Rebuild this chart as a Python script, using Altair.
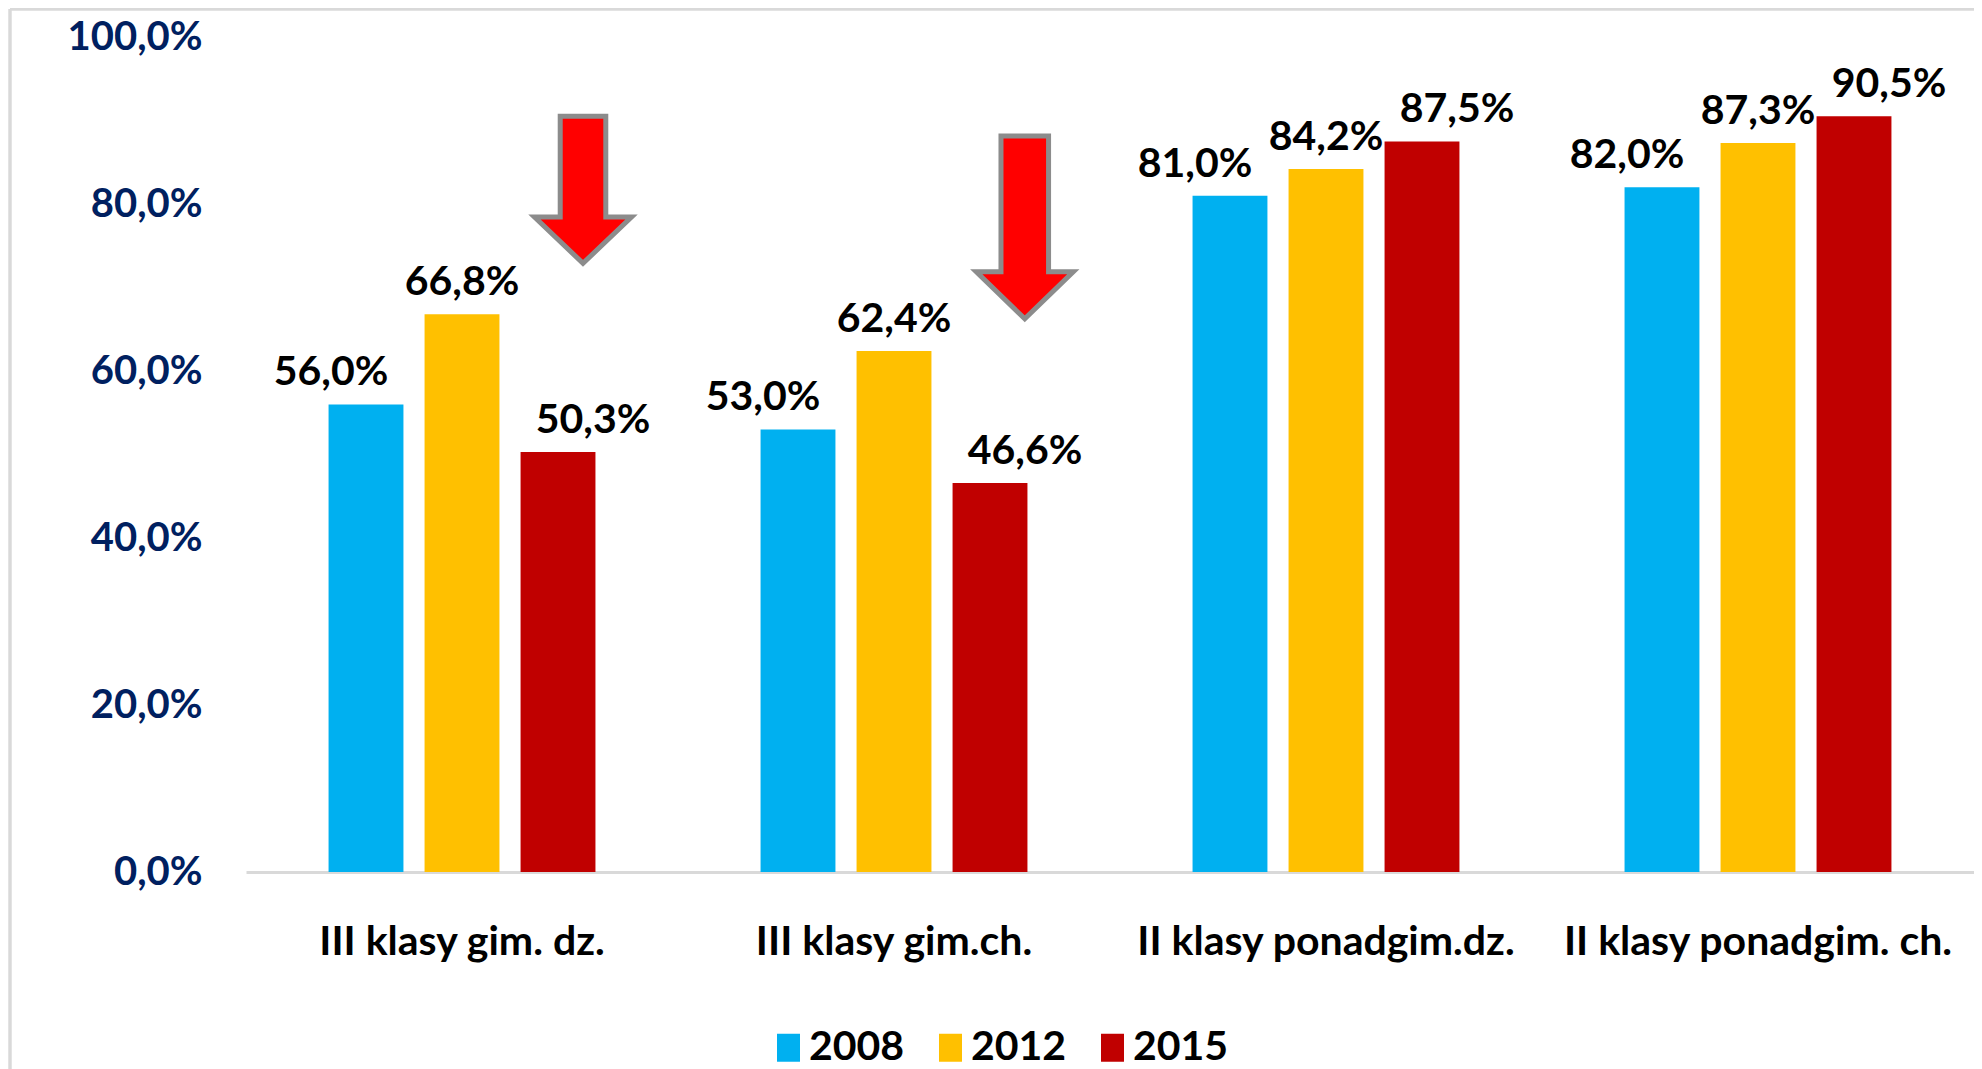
import altair as alt
import pandas as pd

categories = ["III klasy gim. dz.", "III klasy gim.ch.", "II klasy ponadgim.dz.", "II klasy ponadgim. ch."]
years = ["2008", "2012", "2015"]
v2008 = [56.0, 53.0, 81.0, 82.0]
v2012 = [66.8, 62.4, 84.2, 87.3]
v2015 = [50.3, 46.6, 87.5, 90.5]
colors = ["#00B0F0", "#FFC000", "#C00000"]

# arrows: category, value where arrow center sits
arrow_cats = ["III klasy gim. dz.", "III klasy gim.ch."]
arrow_vals = [81.7, 77.2]

rows = []
for yr, vals in zip(years, [v2008, v2012, v2015]):
    for c, v in zip(categories, vals):
        rows.append({"cat": c, "year": yr, "value": v,
                     "label": f"{v:.1f}".replace(".", ",") + "%"})
df = pd.DataFrame(rows)
arr_df = pd.DataFrame({"cat": arrow_cats, "year": ["2015", "2015"], "value": arrow_vals})

FONT = "Lato"
FS = 41
W, H = 1728, 835

x_enc = alt.X("cat:N", sort=categories, title=None,
              scale=alt.Scale(paddingInner=0.3333, paddingOuter=0.16667),
              axis=alt.Axis(labelFont=FONT, labelFontSize=FS, labelFontWeight="bold",
                            labelColor="#000000", labelPadding=70, labelBaseline="middle",
                            ticks=False, domainColor="#D9D9D9", domainWidth=3,
                            labelAngle=0, labelLimit=400))
xoff_enc = alt.XOffset("year:N", sort=years,
                       scale=alt.Scale(paddingInner=0.22, paddingOuter=0.11))
y_enc = alt.Y("value:Q", title=None,
              scale=alt.Scale(domain=[0, 100], nice=False, zero=True),
              axis=alt.Axis(values=[0, 20, 40, 60, 80, 100], grid=False, ticks=False,
                            domain=False, labelFont=FONT, labelFontSize=40,
                            labelFontWeight="bold", labelColor="#002060", labelPadding=44,
                            labelExpr="replace(format(datum.value, '.1f'), '.', ',') + '%'"))

bars = alt.Chart(df).mark_bar().encode(
    x=x_enc, xOffset=xoff_enc, y=y_enc,
    color=alt.Color("year:N", sort=years,
                    scale=alt.Scale(domain=years, range=colors),
                    legend=alt.Legend(title=None, orient="none", direction="horizontal",
                                      legendX=522, legendY=990, padding=0,
                                      labelFont=FONT, labelFontSize=FS, labelFontWeight="bold",
                                      labelColor="#000000", labelOffset=0, columnPadding=25,
                                      symbolType="M-0.82,-1H0.82V1H-0.82Z", symbolSize=784,
                                      symbolStrokeWidth=0, symbolOpacity=1)),
)

def labels(yr, dx):
    return alt.Chart(df).transform_filter(alt.datum.year == yr).mark_text(
        font=FONT, fontSize=FS, fontWeight="bold", color="#000000",
        baseline="bottom", dy=-10, dx=dx
    ).encode(x=alt.X("cat:N", sort=categories), xOffset=alt.XOffset("year:N", sort=years),
             y="value:Q", text="label:N")

arrow1 = "M0.03,-1L0.65,-1L0.65,0.37L1.0,0.37L0.34,1L-0.32,0.37L0.03,0.37Z"
arrow2 = "M0.12,-1L0.64,-1L0.64,0.486L0.91,0.486L0.38,1L-0.15,0.486L0.12,0.486Z"

def arrow(cat, path, size):
    return alt.Chart(arr_df).transform_filter(alt.datum.cat == cat).mark_point(
        shape=path, size=size, filled=True, fill="#FF0000", stroke="#8C8C8C",
        strokeWidth=5, opacity=1
    ).encode(x=alt.X("cat:N", sort=categories), xOffset=alt.XOffset("year:N", sort=years),
             y="value:Q")

border_top = alt.Chart(arr_df).mark_rule(color="#D9D9D9", strokeWidth=3).encode(
    x=alt.value(-236), x2=alt.value(W + 10), y=alt.value(-28))
border_left = alt.Chart(arr_df).mark_rule(color="#D9D9D9", strokeWidth=3).encode(
    x=alt.value(-236), y=alt.value(-28), y2=alt.value(H + 210))

chart = alt.layer(
    border_top, border_left, bars,
    labels("2008", -35), labels("2012", 0), labels("2015", 35),
    arrow(arrow_cats[0], arrow1, 147 * 147),
    arrow(arrow_cats[1], arrow2, 183 * 183),
).properties(
    width=W, height=H,
    autosize=alt.AutoSizeParams(type="none"),
    padding={"left": 238, "top": 29, "right": 0, "bottom": 197},
).configure(background="white").configure_view(stroke=None)

chart.save("out.html", embed_options={"renderer": "svg", "actions": False})
